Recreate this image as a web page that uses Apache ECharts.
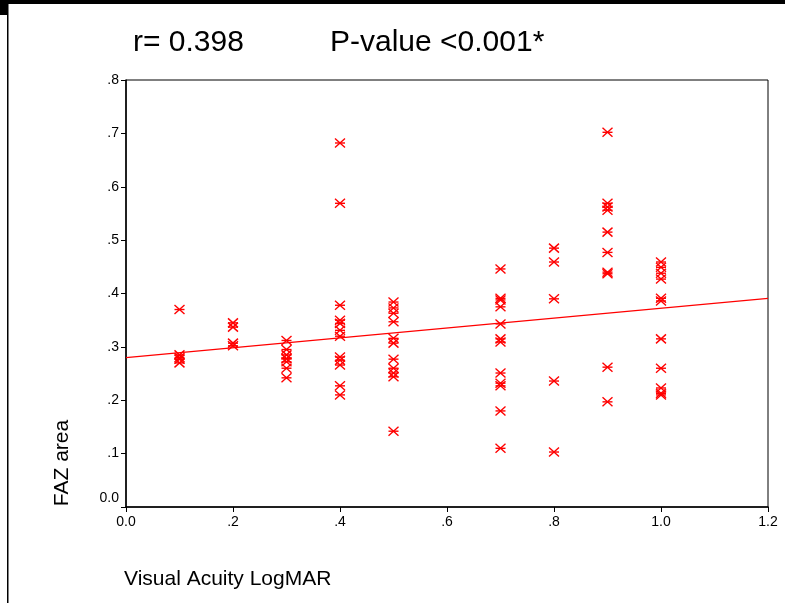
<!DOCTYPE html>
<html>
<head>
<meta charset="utf-8">
<script src="https://cdn.jsdelivr.net/npm/echarts@6/dist/echarts.min.js"></script>
<style>
html,body{margin:0;padding:0;background:#fff;}
#c{width:785px;height:603px;}
</style>
</head>
<body>
<div id="c"></div>
<script>
// Visual acuity (LogMAR) levels and FAZ area values
const acuityLevels = [0.1, 0.2, 0.3, 0.4, 0.5, 0.7, 0.8, 0.9, 1.0];
const faz01 = [0.37, 0.285, 0.28, 0.277, 0.27];
const faz02 = [0.345, 0.337, 0.307, 0.302];
const faz03 = [0.312, 0.295, 0.285, 0.278, 0.272, 0.26, 0.242];
const faz04 = [0.682, 0.569, 0.378, 0.350, 0.344, 0.331, 0.32, 0.281, 0.275, 0.266, 0.227, 0.21];
const faz05 = [0.384, 0.373, 0.363, 0.347, 0.316, 0.307, 0.277, 0.26, 0.251, 0.244, 0.142];
const faz07 = [0.446, 0.391, 0.388, 0.375, 0.343, 0.315, 0.309, 0.251, 0.232, 0.227, 0.18, 0.11];
const faz08 = [0.485, 0.459, 0.39, 0.236, 0.103];
const faz09 = [0.702, 0.569, 0.562, 0.556, 0.515, 0.477, 0.44, 0.437, 0.262, 0.197];
const faz10 = [0.459, 0.449, 0.438, 0.427, 0.391, 0.386, 0.315, 0.26, 0.223, 0.213, 0.21];
const fazGroups = [faz01, faz02, faz03, faz04, faz05, faz07, faz08, faz09, faz10];
// Fit line end points (x, y)
const fitX = [0, 1.2];
const fitY = [0.28, 0.391];
const xTicks = ['0.0', '.2', '.4', '.6', '.8', '1.0', '1.2'];
const yTicks = ['0.0', '.1', '.2', '.3', '.4', '.5', '.6', '.7', '.8'];
const titleR = 'r= 0.398';
const titleP = 'P-value <0.001*';

const points = [];
acuityLevels.forEach((x, i) => fazGroups[i].forEach(y => points.push([x, y])));
const fitLine = fitX.map((x, i) => [x, fitY[i]]);

const FONT = '"Liberation Sans", Arial, sans-serif';
const RED = '#ff0000';
function starItem(params, api) {
  const p = api.coord([api.value(0), api.value(1)]);
  const w = 5, h = 4.5;
  const st = {stroke: RED, lineWidth: 1.4, fill: null};
  return {
    type: 'group',
    children: [
      {type: 'line', shape: {x1: p[0] - w, y1: p[1] - h, x2: p[0] + w, y2: p[1] + h}, style: st},
      {type: 'line', shape: {x1: p[0] - w, y1: p[1] + h, x2: p[0] + w, y2: p[1] - h}, style: st},
      {type: 'line', shape: {x1: p[0] - w, y1: p[1], x2: p[0] + w, y2: p[1]}, style: st}
    ]
  };
}

const chart = echarts.init(document.getElementById('c'), null, {renderer: 'canvas'});
chart.setOption({
  animation: false,
  backgroundColor: '#fff',
  grid: {left: 126, right: 17, top: 80, bottom: 96, show: true, borderColor: '#000', borderWidth: 1, backgroundColor: 'transparent'},
  xAxis: {
    type: 'value', min: 0, max: 1.2, interval: 0.2,
    axisLine: {show: true, onZero: false, lineStyle: {color: '#000', width: 1.5}},
    axisTick: {show: true, inside: false, length: 5, lineStyle: {color: '#000', width: 1}},
    splitLine: {show: false},
    axisLabel: {color: '#000', fontFamily: FONT, fontSize: 14, margin: 8,
      formatter: (v) => xTicks[Math.round(v / 0.2)]}
  },
  yAxis: {
    type: 'value', min: 0, max: 0.8, interval: 0.1,
    axisLine: {show: true, onZero: false, lineStyle: {color: '#000', width: 1.5}},
    axisTick: {show: true, inside: false, length: 5, lineStyle: {color: '#000', width: 1}},
    splitLine: {show: false},
    axisLabel: {color: '#000', fontFamily: FONT, fontSize: 14, margin: 7,
      formatter: (v) => {
        const i = Math.round(v / 0.1);
        return i === 0 ? '{z|' + yTicks[i] + '}' : yTicks[i];
      },
      rich: {z: {fontFamily: FONT, fontSize: 14, color: '#000', padding: [0, 0, 18, 0]}}
    }
  },
  series: [
    {
      type: 'line', data: fitLine, symbol: 'none', silent: true,
      lineStyle: {color: RED, width: 1.3}, z: 2
    },
    {
      type: 'custom', data: points, renderItem: starItem,
      encode: {x: 0, y: 1}, silent: true, z: 3
    }
  ],
  graphic: [
    {type: 'rect', shape: {x: 0, y: 0, width: 785, height: 4}, style: {fill: '#000'}},
    {type: 'rect', shape: {x: 0, y: 0, width: 8, height: 15}, style: {fill: '#000'}},
    {type: 'rect', shape: {x: 7, y: 0, width: 1.5, height: 603}, style: {fill: '#000'}},
    {type: 'text', left: 133, top: 28, style: {text: titleR, font: '30px ' + FONT, fill: '#000'}},
    {type: 'text', left: 330, top: 28, style: {text: titleP, font: '30px ' + FONT, fill: '#000'}},
    {type: 'text', x: 62, y: 463, rotation: Math.PI / 2,
      style: {text: 'FAZ area', font: '21px ' + FONT, fill: '#000', textAlign: 'center', textVerticalAlign: 'middle'}},
    {type: 'text', left: 124, top: 569, style: {text: 'Visual Acuity LogMAR', font: '21px ' + FONT, fill: '#000'}}
  ]
});
</script>
</body>
</html>
